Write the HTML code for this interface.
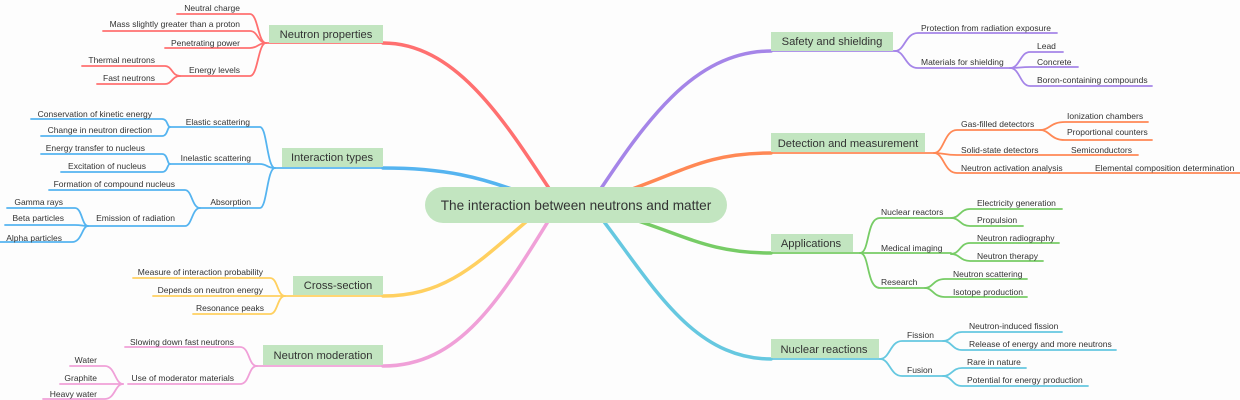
<!DOCTYPE html>
<html><head><meta charset="utf-8"><style>
html,body{margin:0;padding:0;background:#fdfdfd;}
svg{display:block;}
text{font-family:"Liberation Sans",sans-serif;fill:#333;}
.s{font-size:8.5px;}
.m{font-size:11.2px;}
.l path{fill:none;stroke-width:1.8;stroke-linecap:round;}
.e text{text-anchor:end;}
</style></head><body>
<svg width="1240" height="400" viewBox="0 0 1240 400" xmlns="http://www.w3.org/2000/svg">
<g fill="none" stroke-width="3.5" stroke-linecap="round">
<path d="M560 205 C510 130 460 43 383 43" stroke="#ff7070"/>
<path d="M540 200 C480 175 440 168 383 168" stroke="#55b4f0"/>
<path d="M540 210 C480 260 450 296 383 296" stroke="#ffd060"/>
<path d="M555 210 C500 300 460 366 383 366" stroke="#f0a0d8"/>
<path d="M590 205 C640 130 690 51 771 51" stroke="#a585e8"/>
<path d="M600 200 C680 175 700 153 771 153" stroke="#ff8855"/>
<path d="M600 210 C680 230 700 253 771 253" stroke="#77cc66"/>
<path d="M595 210 C650 280 690 359 771 359" stroke="#66c8e0"/>
</g>
<rect x="425" y="187" width="302" height="36" rx="18" fill="#c2e5c0"/>
<text x="576" y="210" font-size="13.6" text-anchor="middle">The interaction between neutrons and matter</text>

<g class="l e">
<g stroke="#ff7070"><path d="M266 43 L383 43"/>
<path d="M266 43 C258 43 258 14 250 14 L177 14"/>
<path d="M266 43 C258 43 258 31 250 31 L103 31"/>
<path d="M266 43 C258 43 258 48 250 48 L165 48"/>
<path d="M266 43 C258 43 258 76 250 76 L180 76"/>
<path d="M180 76 C172 76 172 66 165 66 L82 66"/>
<path d="M180 76 C172 76 172 84 165 84 L97 84"/></g>
<rect x="269" y="25" width="114" height="18" fill="#c2e5c0"/>
<text class="m" x="326" y="38" style="text-anchor:middle">Neutron properties</text>
<text class="s" x="240" y="11">Neutral charge</text>
<text class="s" x="240" y="27">Mass slightly greater than a proton</text>
<text class="s" x="240" y="46">Penetrating power</text>
<text class="s" x="240" y="73">Energy levels</text>
<text class="s" x="155" y="63">Thermal neutrons</text>
<text class="s" x="155" y="81">Fast neutrons</text>
</g>

<g class="l e">
<g stroke="#55b4f0"><path d="M275 168 L383 168"/>
<path d="M275 168 C267 168 267 127 260 127 L170 127"/>
<path d="M275 168 C267 168 267 164 260 164 L170 164"/>
<path d="M275 168 C267 168 267 208 260 208 L200 208"/>
<path d="M170 127 C167 127 168 119 162 119 L31 119"/>
<path d="M170 127 C167 127 168 136 162 136 L41 136"/>
<path d="M170 164 C167 164 168 154 162 154 L41 154"/>
<path d="M170 164 C167 164 168 172 162 172 L61 172"/>
<path d="M200 208 C192 208 192 190 185 190 L49 190"/>
<path d="M200 208 C192 208 192 226 185 226 L88 226"/>
<path d="M88 226 C82 226 82 208 75 208 L7 208"/>
<path d="M88 226 C82 226 82 225 75 225 L5 225"/>
<path d="M88 226 C82 226 82 242 72 242 L0 242"/></g>
<rect x="282" y="148" width="101" height="19" fill="#c2e5c0"/>
<text class="m" x="332" y="161" style="text-anchor:middle">Interaction types</text>
<text class="s" x="250" y="125">Elastic scattering</text>
<text class="s" x="152" y="117">Conservation of kinetic energy</text>
<text class="s" x="152" y="133">Change in neutron direction</text>
<text class="s" x="251" y="161">Inelastic scattering</text>
<text class="s" x="145" y="151">Energy transfer to nucleus</text>
<text class="s" x="146" y="169">Excitation of nucleus</text>
<text class="s" x="251" y="205">Absorption</text>
<text class="s" x="175" y="187">Formation of compound nucleus</text>
<text class="s" x="175" y="221">Emission of radiation</text>
<text class="s" x="63" y="205">Gamma rays</text>
<text class="s" x="64" y="221">Beta particles</text>
<text class="s" x="62" y="241">Alpha particles</text>
</g>

<g class="l e">
<g stroke="#ffd060"><path d="M285 296 L383 296"/>
<path d="M285 296 C277 296 278 278 270 278 L133 278"/>
<path d="M285 296 L153 296"/>
<path d="M285 296 C277 296 278 314 270 314 L193 314"/></g>
<rect x="293" y="276" width="90" height="19" fill="#c2e5c0"/>
<text class="m" x="338" y="289" style="text-anchor:middle">Cross-section</text>
<text class="s" x="263" y="275">Measure of interaction probability</text>
<text class="s" x="263" y="293">Depends on neutron energy</text>
<text class="s" x="264" y="311">Resonance peaks</text>
</g>

<g class="l e">
<g stroke="#f0a0d8"><path d="M257 366 L383 366"/>
<path d="M257 366 C248 366 250 347 240 347 L125 347"/>
<path d="M257 366 C248 366 250 384 240 384 L128 384"/>
<path d="M123 384 C115 384 115 366 105 366 L70 366"/>
<path d="M123 384 L60 384"/>
<path d="M123 384 C115 384 115 399 105 399 L43 399"/></g>
<rect x="263" y="345" width="120" height="20" fill="#c2e5c0"/>
<text class="m" x="323" y="359" style="text-anchor:middle">Neutron moderation</text>
<text class="s" x="234" y="345">Slowing down fast neutrons</text>
<text class="s" x="234" y="381">Use of moderator materials</text>
<text class="s" x="97" y="363">Water</text>
<text class="s" x="97" y="381">Graphite</text>
<text class="s" x="97" y="397">Heavy water</text>
</g>

<g class="l">
<g stroke="#a585e8"><path d="M771 51 L895 51"/>
<path d="M895 51 C905 51 905 33 918 33 L1057 33"/>
<path d="M895 51 C905 51 905 68 918 68 L1010 68"/>
<path d="M1010 68 C1020 68 1020 52 1030 52 L1063 52"/>
<path d="M1010 68 C1020 68 1020 67 1030 67 L1078 67"/>
<path d="M1010 68 C1020 68 1020 86 1030 86 L1152 86"/></g>
<rect x="771" y="32" width="122" height="19" fill="#c2e5c0"/>
<text class="m" x="832" y="45" style="text-anchor:middle">Safety and shielding</text>
<text class="s" x="921" y="31">Protection from radiation exposure</text>
<text class="s" x="921" y="65">Materials for shielding</text>
<text class="s" x="1037" y="49">Lead</text>
<text class="s" x="1037" y="65">Concrete</text>
<text class="s" x="1037" y="83">Boron-containing compounds</text>
</g>

<g class="l">
<g stroke="#ff8855"><path d="M771 153 L934 153"/>
<path d="M934 153 C944 153 944 130 957 130 L1040 130"/>
<path d="M934 153 C944 153 944 155 957 155 L1138 155"/>
<path d="M934 153 C944 153 944 173 957 173 L1240 173"/>
<path d="M1040 130 C1050 130 1050 122 1065 122 L1148 122"/>
<path d="M1040 130 C1050 130 1050 140 1065 140 L1152 140"/></g>
<rect x="771" y="133" width="154" height="19" fill="#c2e5c0"/>
<text class="m" x="848" y="147" style="text-anchor:middle">Detection and measurement</text>
<text class="s" x="961" y="127">Gas-filled detectors</text>
<text class="s" x="1067" y="119">Ionization chambers</text>
<text class="s" x="1067" y="135">Proportional counters</text>
<text class="s" x="961" y="153">Solid-state detectors</text>
<text class="s" x="1071" y="153">Semiconductors</text>
<text class="s" x="961" y="171">Neutron activation analysis</text>
<text class="s" x="1095" y="171">Elemental composition determination</text>
</g>

<g class="l">
<g stroke="#77cc66"><path d="M771 253 L860 253"/>
<path d="M860 253 C870 253 866 218 880 218 L951 218"/>
<path d="M860 253 L951 253"/>
<path d="M860 253 C870 253 866 288 880 288 L925 288"/>
<path d="M951 218 C960 218 960 209 970 209 L1062 209"/>
<path d="M951 218 C960 218 960 226 970 226 L1023 226"/>
<path d="M951 254 C960 254 960 243 970 243 L1059 243"/>
<path d="M951 254 C960 254 960 261 970 261 L1043 261"/>
<path d="M925 288 C933 288 933 279 945 279 L1027 279"/>
<path d="M925 288 C933 288 933 297 945 297 L1027 297"/></g>
<rect x="771" y="234" width="82" height="18" fill="#c2e5c0"/>
<text class="m" x="811" y="247" style="text-anchor:middle">Applications</text>
<text class="s" x="881" y="215">Nuclear reactors</text>
<text class="s" x="977" y="206">Electricity generation</text>
<text class="s" x="977" y="223">Propulsion</text>
<text class="s" x="881" y="251">Medical imaging</text>
<text class="s" x="977" y="241">Neutron radiography</text>
<text class="s" x="977" y="259">Neutron therapy</text>
<text class="s" x="881" y="285">Research</text>
<text class="s" x="953" y="277">Neutron scattering</text>
<text class="s" x="953" y="295">Isotope production</text>
</g>

<g class="l">
<g stroke="#66c8e0"><path d="M771 359 L880 359"/>
<path d="M880 359 C890 359 890 341 902 341 L943 341"/>
<path d="M880 359 C890 359 890 376 902 376 L943 376"/>
<path d="M943 341 C952 341 952 332 962 332 L1062 332"/>
<path d="M943 341 C952 341 952 350 962 350 L1116 350"/>
<path d="M943 376 C952 376 952 368 962 368 L1026 368"/>
<path d="M943 376 C952 376 952 386 962 386 L1088 386"/></g>
<rect x="771" y="339" width="108" height="19" fill="#c2e5c0"/>
<text class="m" x="824" y="353" style="text-anchor:middle">Nuclear reactions</text>
<text class="s" x="907" y="338">Fission</text>
<text class="s" x="907" y="373">Fusion</text>
<text class="s" x="969" y="329">Neutron-induced fission</text>
<text class="s" x="969" y="347">Release of energy and more neutrons</text>
<text class="s" x="967" y="365">Rare in nature</text>
<text class="s" x="967" y="383">Potential for energy production</text>
</g>
</svg>
</body></html>
